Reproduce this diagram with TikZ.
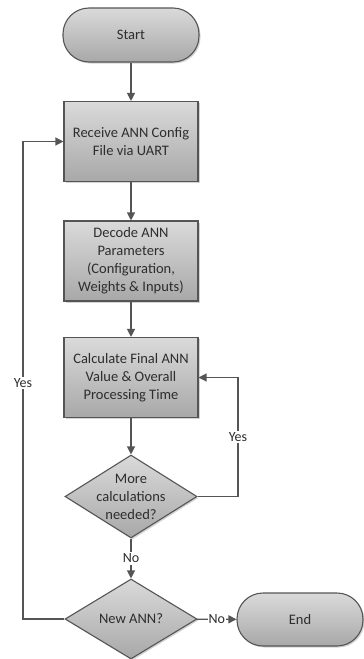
\documentclass[tikz,border=0pt]{standalone}
\usepackage{fontspec}
\setmainfont{Carlito}
\usetikzlibrary{shapes.geometric,shadows,arrows.meta}
\definecolor{fillTop}{RGB}{218,218,218}
\definecolor{fillBot}{RGB}{168,168,168}
\definecolor{edge}{RGB}{85,85,85}
\definecolor{txt}{RGB}{45,45,45}
\tikzset{
  base/.style={draw=edge, line width=1.1pt, top color=fillTop, bottom color=fillBot,
    drop shadow={opacity=0.35, shadow xshift=1.5pt, shadow yshift=-1.5pt},
    text=txt, font=\fontsize{14.5pt}{18pt}\selectfont, align=center, inner sep=0pt},
  term/.style={base, rectangle, rounded corners=26pt, minimum width=136pt, minimum height=54pt},
  proc/.style={base, rectangle, minimum width=134pt, minimum height=80pt},
  decision/.style={base, diamond, minimum width=132pt, minimum height=83pt},
  dtext/.style={text=txt, font=\fontsize{14.5pt}{18pt}\selectfont, align=center, inner sep=0pt},
  flow/.style={draw=edge, line width=1.2pt, -{Triangle[length=8pt,width=8pt]}},
  lbl/.style={text=txt, font=\fontsize{14pt}{17pt}\selectfont, fill=white, inner sep=1.5pt},
}
\begin{document}
\begin{tikzpicture}[x=1pt,y=-1pt]
\useasboundingbox (0,0) rectangle (364,659);
\node[term] (start) at (131,35) {Start};
\node[proc] (recv) at (131,141.5) {Receive ANN Config\\File via UART};
\node[proc] (dec) at (131,261) {Decode ANN\\Parameters\\(Configuration,\\Weights \& Inputs)};
\node[proc] (calc) at (131,377.5) {Calculate Final ANN\\Value \& Overall\\Processing Time};
\node[decision] (more) at (131,496.5) {};
\node[dtext] (moretxt) at (more.center) {More\\calculations\\needed?};
\node[decision, minimum height=80pt] (new) at (131,619) {};
\node[dtext] (newtxt) at (new.center) {New ANN?};
\node[term, minimum width=126pt, minimum height=53pt] (end) at (300,619.5) {End};
\coordinate (rx) at (238,0);
\coordinate (lx) at (23,0);
\draw[flow] (start) -- (recv);
\draw[flow] (recv) -- (dec);
\draw[flow] (dec) -- (calc);
\draw[flow] (calc) -- (more);
\draw[flow] (more) -- node[lbl] (no1) {No} (new);
\draw[flow] (new) -- node[lbl, inner sep=0.5pt] (no2) {No} (end);
\draw[flow] (more.east) -- (more.east -| rx) -- node[lbl, pos=0.5] (yes1) {Yes} (calc.east -| rx) -- (calc.east);
\draw[flow] (new.west) -- (new.west -| lx) -- node[lbl, pos=0.495] (yes2) {Yes} (recv.west -| lx) -- (recv.west);
\end{tikzpicture}
\end{document}
